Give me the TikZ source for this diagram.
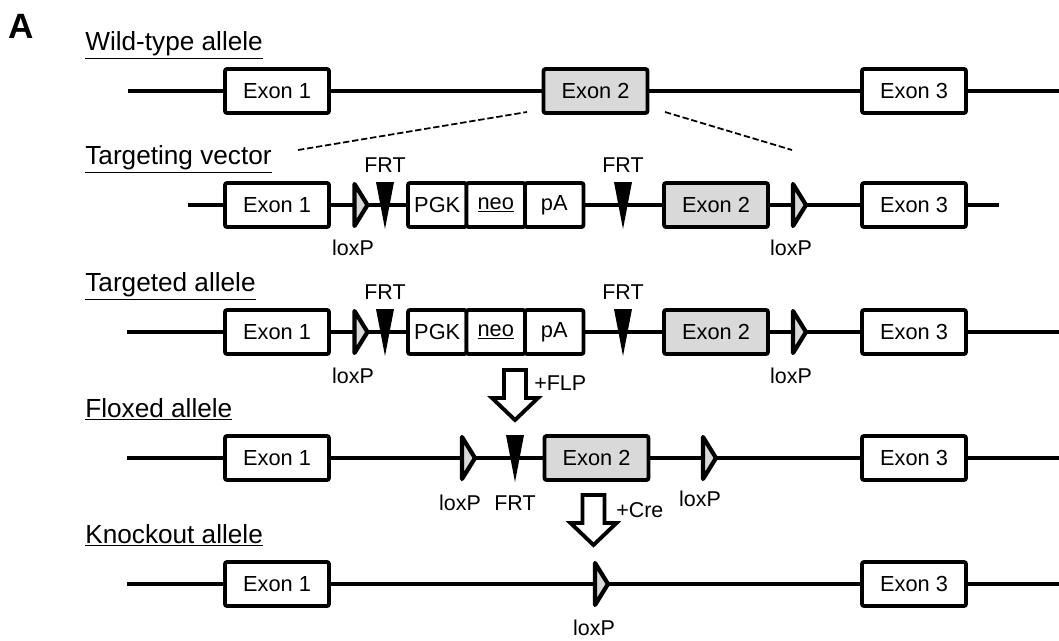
\documentclass[tikz,border=0pt]{standalone}
\usepackage{fontspec}
\setmainfont{Liberation Sans}
\usetikzlibrary{positioning}
\definecolor{exongray}{RGB}{217,217,217}

\begin{document}
\begin{tikzpicture}[x=0.02cm,y=-0.02cm,
    exon/.style={draw,fill=white,line width=2.2pt,rounded corners=1.2pt,
      minimum width=2.08cm,minimum height=0.88cm,inner sep=0pt,outer sep=0pt,
      font=\fontsize{12.4}{14}\selectfont},
    floxed/.style={exon,fill=exongray},
    cassette/.style={exon,minimum width=1.17cm},
    dna/.style={line width=1.9pt},
    site/.style={inner sep=0pt,font=\fontsize{12.2}{14}\selectfont},
    allele/.style={anchor=base west,inner sep=0pt,font=\fontsize{14.9}{17}\selectfont},
    zoomline/.style={line width=1pt,dash pattern=on 3.6pt off 1.6pt},
    lox/.pic={\filldraw[fill=exongray,line width=2.4pt,line join=round]
      (0,-21) -- (13,0) -- (0,21) -- cycle;},
    frt/.pic={\fill (-9,-23) -- (9,-23) -- (0,24) -- cycle;},
    recomb/.pic={\draw[fill=white,line width=2.2pt,line join=miter]
      (-11,0) -- (11,0) -- (11,28) -- (23,28) -- (0,50) -- (-23,28) -- (-11,28) -- cycle;}]
    \useasboundingbox (0,0) rectangle (1059,640);
    \def\yWT{91}
    \def\yTV{205}
    \def\yTA{332}
    \def\yFL{458}
    \def\yKO{584}
    \node[anchor=base west,inner sep=0pt,font=\fontsize{20}{24}\selectfont\bfseries] (fig) at (8,38) {A};

    % wild-type
    \node[allele] (t1) at (85,\yWT-41) {\underline{Wild-type allele}};
    \coordinate (w0) at (128,\yWT);
    \coordinate (w9) at (1059,\yWT);
    \draw[dna] (w0) -- (w9);
    \node[exon] (w1) at (277,\yWT) {Exon 1};
    \node[floxed] (w2) at (595.5,\yWT) {Exon 2};
    \node[exon] (w3) at (914,\yWT) {Exon 3};
    \coordinate (z1) at (298,150);
    \coordinate (z2) at (527,112);
    \coordinate (z3) at (665,112);
    \coordinate (z4) at (792,150);
    \draw[zoomline] (z1) -- (z2);
    \draw[zoomline] (z3) -- (z4);

    % targeting vector
    \node[allele] (t2) at (85,\yTV-41) {\underline{Targeting vector}};
    \coordinate (v0) at (188,\yTV);
    \coordinate (v9) at (999,\yTV);
    \draw[dna] (v0) -- (v9);
    \node[exon] (v1) at (277,\yTV) {Exon 1};
    \pic at (354.5,\yTV) {lox};
    \pic at (385,\yTV) {frt};
    \node[cassette] (v2) at (437.25,\yTV) {PGK};
    \node[cassette,right=0pt of v2] (v3) {\underline{neo}};
    \node[cassette,right=0pt of v3] (v4) {pA};
    \pic at (623,\yTV) {frt};
    \node[floxed] (v5) at (716,\yTV) {Exon 2};
    \pic at (793,\yTV) {lox};
    \node[exon] (v6) at (914,\yTV) {Exon 3};
    \node[site] (v7) at (385,\yTV-40) {FRT};
    \node[site] (v8) at (623,\yTV-40) {FRT};
    \node[site] (vl1) at (353,\yTV+43) {loxP};
    \node[site] (vl2) at (791,\yTV+43) {loxP};

    % targeted allele
    \node[allele] (t3) at (85,\yTA-41) {\underline{Targeted allele}};
    \coordinate (a0) at (127,\yTA);
    \coordinate (a9) at (1059,\yTA);
    \draw[dna] (a0) -- (a9);
    \node[exon] (a1) at (277,\yTA) {Exon 1};
    \pic at (354.5,\yTA) {lox};
    \pic at (385,\yTA) {frt};
    \node[cassette] (a2) at (437.25,\yTA) {PGK};
    \node[cassette,right=0pt of a2] (a3) {\underline{neo}};
    \node[cassette,right=0pt of a3] (a4) {pA};
    \pic at (623,\yTA) {frt};
    \node[floxed] (a5) at (716,\yTA) {Exon 2};
    \pic at (793,\yTA) {lox};
    \node[exon] (a6) at (914,\yTA) {Exon 3};
    \node[site] (a7) at (385,\yTA-40) {FRT};
    \node[site] (a8) at (623,\yTA-40) {FRT};
    \node[site] (al1) at (353,\yTA+44) {loxP};
    \node[site] (al2) at (791,\yTA+44) {loxP};

    \pic at (515,370) {recomb};
    \node[site,anchor=west] (flp) at (534,383) {+FLP};

    % floxed allele
    \node[allele] (t4) at (85,\yFL-41) {\underline{Floxed allele}};
    \coordinate (f0) at (127,\yFL);
    \coordinate (f9) at (1059,\yFL);
    \draw[dna] (f0) -- (f9);
    \node[exon] (f1) at (277,\yFL) {Exon 1};
    \pic at (462,\yFL) {lox};
    \pic at (515,\yFL) {frt};
    \node[floxed] (f2) at (596.5,\yFL) {Exon 2};
    \pic at (703,\yFL) {lox};
    \node[exon] (f3) at (914,\yFL) {Exon 3};
    \node[site] (fl1) at (460,\yFL+45) {loxP};
    \node[site] (fl2) at (515,\yFL+45) {FRT};
    \node[site] (fl3) at (700,\yFL+41) {loxP};

    \pic at (593.5,495) {recomb};
    \node[site,anchor=west] (cre) at (616,510) {+Cre};

    % knockout allele
    \node[allele] (t5) at (85,\yKO-41) {\underline{Knockout allele}};
    \coordinate (k0) at (127,\yKO);
    \coordinate (k9) at (1059,\yKO);
    \draw[dna] (k0) -- (k9);
    \node[exon] (k1) at (277,\yKO) {Exon 1};
    \pic at (595,\yKO) {lox};
    \node[exon] (k2) at (914,\yKO) {Exon 3};
    \node[site] (kl1) at (594,\yKO+44) {loxP};
\end{tikzpicture}
\end{document}
